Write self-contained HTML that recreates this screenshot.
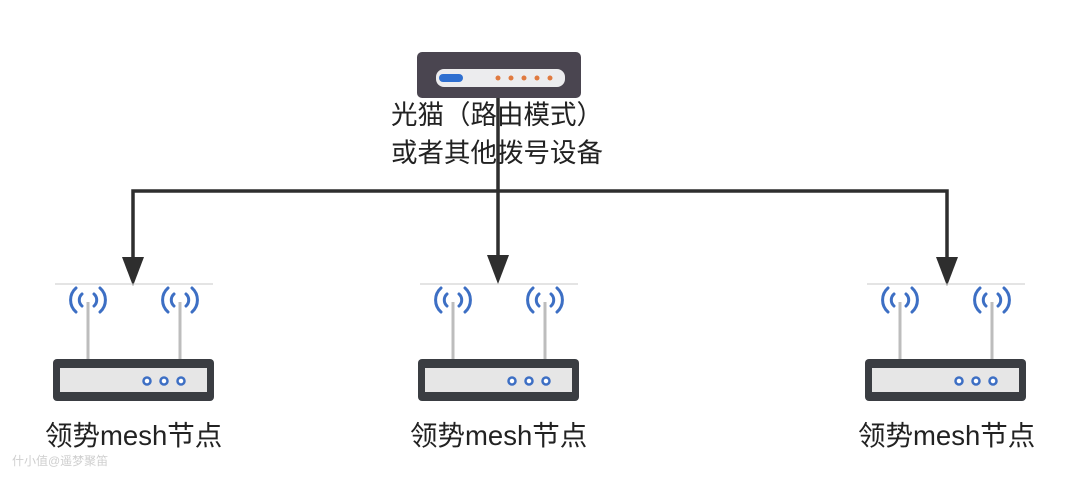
<!DOCTYPE html>
<html><head><meta charset="utf-8"><style>
html,body{margin:0;padding:0;background:#fff;width:1080px;height:480px;overflow:hidden}
svg{display:block}
text{font-family:"Liberation Sans","Noto Sans CJK SC",sans-serif}
</style></head><body>
<svg width="1080" height="480" viewBox="0 0 1080 480" xmlns="http://www.w3.org/2000/svg">
<defs>
<g id="r">
  <line x1="2" y1="284" x2="160" y2="284" stroke="#c8c8c8" stroke-width="1"/>
  <line x1="35" y1="302" x2="35" y2="360" stroke="#bdbdbd" stroke-width="3"/>
  <line x1="127" y1="302" x2="127" y2="360" stroke="#bdbdbd" stroke-width="3"/>
  <g fill="none" stroke="#3d6fc4" stroke-width="3" stroke-linecap="round">
    <path d="M29 294 A8 8 0 0 0 29 306"/><path d="M41 294 A8 8 0 0 1 41 306"/>
    <path d="M23 288 A16 16 0 0 0 23 312"/><path d="M47 288 A16 16 0 0 1 47 312"/>
    <path d="M121 294 A8 8 0 0 0 121 306"/><path d="M133 294 A8 8 0 0 1 133 306"/>
    <path d="M115 288 A16 16 0 0 0 115 312"/><path d="M139 288 A16 16 0 0 1 139 312"/>
  </g>
  <rect x="0" y="359" width="161" height="42" rx="4" fill="#3a3d42"/>
  <rect x="7" y="368" width="147" height="24" fill="#e6e6e6"/>
  <g fill="#fff" stroke="#3d6fc4" stroke-width="2.5">
    <circle cx="94" cy="381" r="3.5"/><circle cx="111" cy="381" r="3.5"/><circle cx="128" cy="381" r="3.5"/>
  </g>
</g>
</defs>
<rect x="417" y="52" width="164" height="46" rx="5" fill="#4a4550"/>
<rect x="436" y="69" width="129" height="18" rx="8" fill="#ececee"/>
<rect x="439" y="74" width="24" height="8" rx="4" fill="#2f6fd0"/>
<g fill="#e07a40"><circle cx="498" cy="78" r="2.5"/><circle cx="511" cy="78" r="2.5"/><circle cx="524" cy="78" r="2.5"/><circle cx="537" cy="78" r="2.5"/><circle cx="550" cy="78" r="2.5"/></g>
<text x="391" y="124" font-size="26.5" fill="#222">光猫（路由模式）</text>
<text x="391" y="162" font-size="26.5" fill="#222">或者其他拨号设备</text>
<g stroke="#2e2e2e" stroke-width="3.5" fill="none">
  <line x1="498" y1="98" x2="498" y2="262"/>
  <polyline points="133,262 133,191 947,191 947,262"/>
</g>
<g fill="#2e2e2e">
  <polygon points="122,257 144,257 133,286"/>
  <polygon points="487,255 509,255 498,284"/>
  <polygon points="936,257 958,257 947,286"/>
</g>
<use href="#r" transform="translate(53,0)"/>
<use href="#r" transform="translate(418,0)"/>
<use href="#r" transform="translate(865,0)"/>
<g font-size="27.5" fill="#222">
  <text x="45" y="445">领势mesh节点</text>
  <text x="410" y="445">领势mesh节点</text>
  <text x="858" y="445">领势mesh节点</text>
</g>
<text x="12" y="465" font-size="12" fill="#cfcfcf">什小值@遥梦聚笛</text>
</svg>
</body></html>
